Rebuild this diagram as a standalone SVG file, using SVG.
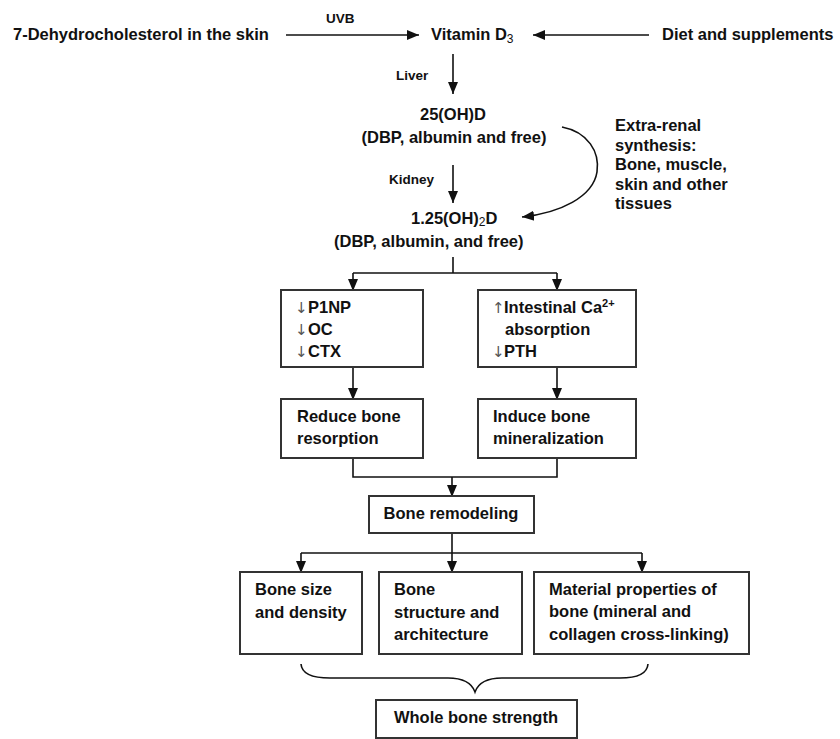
<svg xmlns="http://www.w3.org/2000/svg" width="840" height="739" viewBox="0 0 840 739">
<style>
text{font-family:"Liberation Sans",Arial,sans-serif;font-weight:bold;font-size:16.5px;fill:#111}
.sm{font-size:13.5px}
.ar{font-family:"DejaVu Sans","Liberation Sans",sans-serif;font-weight:normal;font-size:15px;fill:#555}
.box{fill:#fff;stroke:#333;stroke-width:2}
.ln{fill:none;stroke:#111;stroke-width:1.6}
.sub{font-size:12px;font-weight:normal}
</style>
<defs>
<marker id="ah" markerUnits="userSpaceOnUse" markerWidth="12" markerHeight="12" viewBox="0 0 12 10" refX="12" refY="5" orient="auto">
<path d="M0,0 L12,5 L0,10 z" fill="#111"/>
</marker>
</defs>
<rect width="840" height="739" fill="#fff"/>

<g id="connectors">
<line class="ln" x1="286" y1="35" x2="419" y2="35" marker-end="url(#ah)"/>
<line class="ln" x1="649" y1="35" x2="533" y2="35" marker-end="url(#ah)"/>
<line class="ln" x1="453" y1="54" x2="453" y2="94" marker-end="url(#ah)"/>
<line class="ln" x1="453" y1="165" x2="453" y2="203" marker-end="url(#ah)"/>
<path class="ln" d="M562,127 C588,132 600,152 597,172 C593,197 560,213 522,217" marker-end="url(#ah)"/>
<polyline class="ln" points="453,257 453,273"/>
<polyline class="ln" points="353,273 557,273"/>
<line class="ln" x1="353" y1="273" x2="353" y2="291" marker-end="url(#ah)"/>
<line class="ln" x1="557" y1="273" x2="557" y2="291" marker-end="url(#ah)"/>
<line class="ln" x1="353" y1="367" x2="353" y2="400" marker-end="url(#ah)"/>
<line class="ln" x1="557" y1="367" x2="557" y2="400" marker-end="url(#ah)"/>
<polyline class="ln" points="353,458 353,477 557,477 557,458"/>
<line class="ln" x1="452" y1="477" x2="452" y2="497" marker-end="url(#ah)"/>
<polyline class="ln" points="452,533 452,553"/>
<polyline class="ln" points="301,553 642,553"/>
<line class="ln" x1="301" y1="553" x2="301" y2="573" marker-end="url(#ah)"/>
<line class="ln" x1="452" y1="553" x2="452" y2="573" marker-end="url(#ah)"/>
<line class="ln" x1="642" y1="553" x2="642" y2="573" marker-end="url(#ah)"/>
<path class="ln" d="M301,664 Q302,678 330,678 L448,678 Q470,678 475,692 Q480,678 502,678 L620,678 Q647,678 648,664"/>
</g>

<g id="n-labels">
<text class="sm" x="326" y="23">UVB</text>
<text class="sm" x="396" y="80">Liver</text>
<text class="sm" x="389" y="184">Kidney</text>
</g>

<g id="n-dehydro"><text x="13" y="40">7-Dehydrocholesterol in the skin</text></g>
<g id="n-vitd3"><text x="431" y="40">Vitamin D<tspan class="sub" dy="3">3</tspan></text></g>
<g id="n-diet"><text x="662" y="40">Diet and supplements</text></g>

<g id="n-25ohd">
<text x="453" y="120" text-anchor="middle">25(OH)D</text>
<text x="454" y="143" text-anchor="middle">(DBP, albumin and free)</text>
</g>

<g id="n-extrarenal">
<text x="615" y="131">Extra-renal</text>
<text x="615" y="151">synthesis:</text>
<text x="615" y="170">Bone, muscle,</text>
<text x="615" y="190">skin and other</text>
<text x="615" y="209">tissues</text>
</g>

<g id="n-125ohd">
<text x="411" y="224">1.25(OH)<tspan class="sub" dy="2">2</tspan><tspan dy="-2">D</tspan></text>
<text x="334" y="247">(DBP, albumin, and free)</text>
</g>

<g id="n-markers">
<rect class="box" x="281" y="290" width="142" height="77"/>
<text x="295" y="313"><tspan class="ar">↓</tspan><tspan x="308">P1NP</tspan></text>
<text x="295" y="335"><tspan class="ar">↓</tspan><tspan x="308">OC</tspan></text>
<text x="295" y="357"><tspan class="ar">↓</tspan><tspan x="308">CTX</tspan></text>
</g>

<g id="n-intestinal">
<rect class="box" x="478" y="290" width="158" height="77"/>
<text x="492" y="313"><tspan class="ar">↑</tspan><tspan x="504">Intestinal Ca</tspan><tspan font-size="11" dy="-6">2+</tspan></text>
<text x="505" y="335">absorption</text>
<text x="492" y="357"><tspan class="ar">↓</tspan><tspan x="504">PTH</tspan></text>
</g>

<g id="n-reduce">
<rect class="box" x="281" y="399" width="142" height="59"/>
<text x="297" y="422">Reduce bone</text>
<text x="297" y="444">resorption</text>
</g>

<g id="n-induce">
<rect class="box" x="478" y="399" width="158" height="59"/>
<text x="493" y="422">Induce bone</text>
<text x="493" y="444">mineralization</text>
</g>

<g id="n-remodeling">
<rect class="box" x="369" y="496" width="165" height="37"/>
<text x="451" y="519" text-anchor="middle">Bone remodeling</text>
</g>

<g id="n-size">
<rect class="box" x="240" y="572" width="122" height="82"/>
<text x="255" y="595">Bone size</text>
<text x="255" y="618">and density</text>
</g>

<g id="n-structure">
<rect class="box" x="379" y="572" width="143" height="82"/>
<text x="394" y="595">Bone</text>
<text x="394" y="618">structure and</text>
<text x="394" y="640">architecture</text>
</g>

<g id="n-material">
<rect class="box" x="534" y="572" width="215" height="82"/>
<text x="549" y="595">Material properties of</text>
<text x="549" y="617">bone (mineral  and</text>
<text x="549" y="640">collagen cross-linking)</text>
</g>

<g id="n-strength">
<rect class="box" x="376" y="700" width="201" height="38"/>
<text x="476" y="723" text-anchor="middle">Whole bone strength</text>
</g>
</svg>
